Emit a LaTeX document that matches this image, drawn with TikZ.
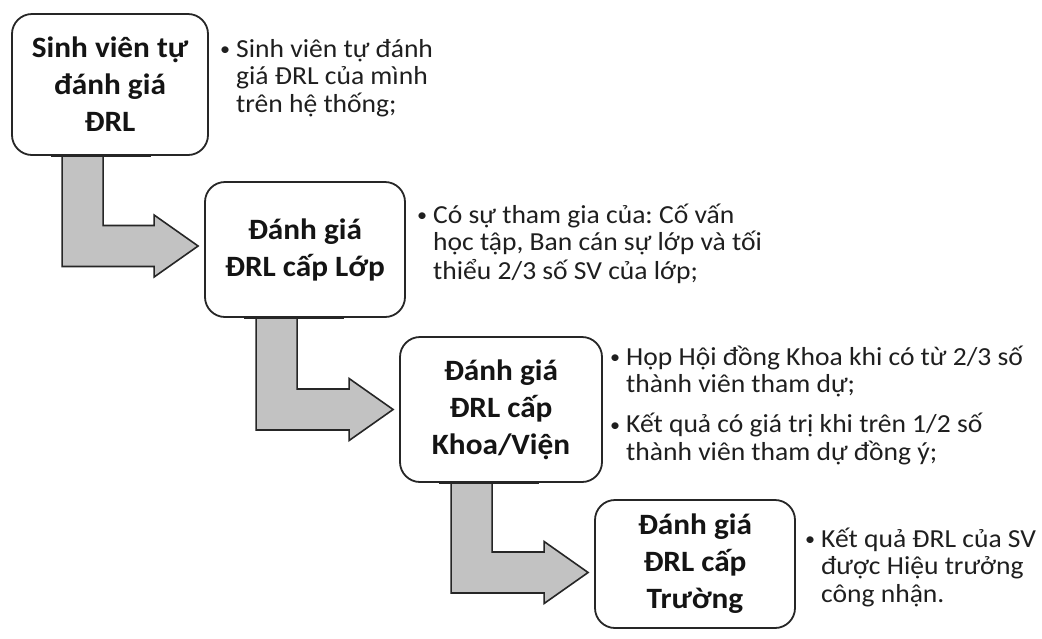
\documentclass[tikz,border=0pt]{standalone}
\usepackage{fontspec}
\setmainfont{Carlito}[FakeStretch=1.06]
\usetikzlibrary{calc}
\frenchspacing

\tikzset{
  stage/.style={draw=black!85, line width=1.8pt, rounded corners=20pt,
    inner sep=0pt, align=center, text=black!92,
    font=\fontsize{29.5}{37}\selectfont\bfseries},
  note/.style={anchor=base west, inner sep=0pt, text=black!88,
    font=\fontsize{26}{27.5}\selectfont},
  flow/.style={draw=black!85, line width=1.6pt, fill=black!24, line join=miter}
}

% bent block arrow from the bottom of box #1 to the left side of box #2
% #3: left edge of the shaft, measured from the lower left corner of #1
% #4: vertical shift of the bar centre from the middle of #2's left side
\newcommand\flowarrow[4]{%
  \path[flow] let \p1=(#1.south west), \p2=(#2.west),
      \n1={\x1+#3}, \n2={\x2-6pt}, \n3={\y2+#4} in
    (\n1,\y1) -- (\n1+41pt,\y1) -- (\n1+41pt,\n3+20.5pt)
    -- (\n2-44pt,\n3+20.5pt) -- (\n2-44pt,\n3+31pt) -- (\n2,\n3)
    -- (\n2-44pt,\n3-31pt) -- (\n2-44pt,\n3-20.5pt) -- (\n1,\n3-20.5pt) -- cycle;}

% bulleted line and continuation line of a note
\newcommand\bul{\makebox[16pt][l]{\raisebox{1.5pt}{\fontsize{19}{19}\selectfont •}}}
\newcommand\cont{\hspace*{16pt}}

\begin{document}
\begin{tikzpicture}[x=1pt, y=-1pt]
\useasboundingbox[fill=white] (0,0) rectangle (1042,638);

% stages
\node[stage, minimum width=196pt, minimum height=141pt] (s1) at (110,84.5)
  {Sinh viên tự\\đánh giá\\ĐRL};
\node[stage, minimum width=200pt, minimum height=135pt] (s2) at (305,249.5)
  {Đánh giá\\ĐRL cấp Lớp};
\node[stage, minimum width=202pt, minimum height=145pt] (s3) at (501,409.5)
  {Đánh giá\\ĐRL cấp\\Khoa/Viện};
\node[stage, minimum width=200pt, minimum height=128pt] (s4) at (695,564)
  {Đánh giá\\ĐRL cấp\\Trường};

% arrows between stages
\flowarrow{s1}{s2}{51pt}{3.5pt}
\flowarrow{s2}{s3}{52pt}{0pt}
\flowarrow{s3}{s4}{52pt}{-8.5pt}

% redraw the lower box edges over the arrow ends
\foreach \s in {s1,s2,s3} \draw[black!85, line width=1.8pt] (\s.south west) ++(40pt,0) -- ++(100pt,0);

% notes
\node[note] (n1) at (220,57) {\begin{tabular}[t]{@{}l@{}}
  \bul Sinh viên tự đánh\\ \cont giá ĐRL của mình\\ \cont trên hệ thống;\end{tabular}};
\node[note] (n2) at (417,223) {\begin{tabular}[t]{@{}l@{}}
  \bul Có sự tham gia của: Cố vấn\\ \cont học tập, Ban cán sự lớp và tối\\ \cont thiểu 2/3 số SV của lớp;\end{tabular}};
\node[note] (n3) at (610,365) {\begin{tabular}[t]{@{}l@{}}
  \bul Họp Hội đồng Khoa khi có từ 2/3 số\\ \cont thành viên tham dự;\\[12.5pt]
  \bul Kết quả có giá trị khi trên 1/2 số\\ \cont thành viên tham dự đồng ý;\end{tabular}};
\node[note] (n4) at (805,547) {\begin{tabular}[t]{@{}l@{}}
  \bul Kết quả ĐRL của SV\\ \cont được Hiệu trưởng\\ \cont công nhận.\end{tabular}};
\end{tikzpicture}
\end{document}
